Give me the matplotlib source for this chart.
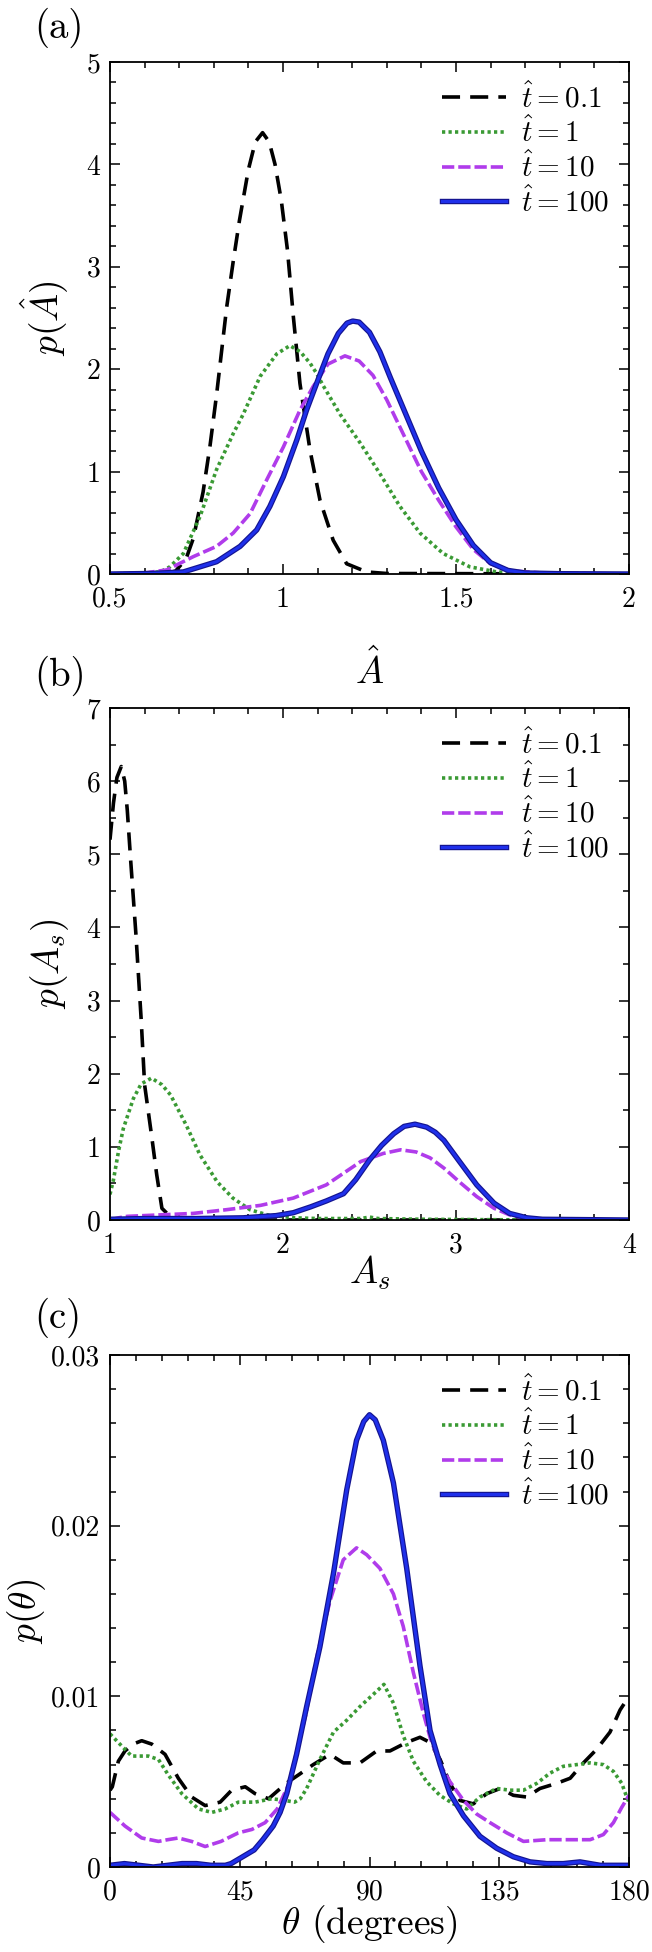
import matplotlib
matplotlib.use("Agg")
import matplotlib.pyplot as plt
import matplotlib.patheffects as pe
from matplotlib.ticker import MultipleLocator

plt.rcParams['mathtext.fontset'] = 'cm'
plt.rcParams['font.family'] = 'serif'
plt.rcParams['font.serif'] = ['cmr10', 'DejaVu Serif']
plt.rcParams['axes.formatter.use_mathtext'] = True

legend_labels = [r'$\hat{t} = 0.1$', r'$\hat{t} = 1$', r'$\hat{t} = 10$', r'$\hat{t} = 100$']

# ---------------- panel (a): p(A_hat) ----------------
a_x_k = [0.5, 0.66, 0.69, 0.72, 0.741, 0.769, 0.789, 0.808, 0.823, 0.837, 0.856, 0.874, 0.90, 0.92,
         0.941, 0.96, 0.977, 0.995, 1.013, 1.030, 1.049, 1.078, 1.107, 1.145, 1.184, 1.242, 1.3, 2.0]
a_y_k = [0, 0, 0.03, 0.15, 0.35, 0.8, 1.25, 1.75, 2.19, 2.6, 3.05, 3.45, 3.95, 4.22,
         4.31, 4.22, 4.0, 3.65, 3.16, 2.51, 1.86, 1.21, 0.72, 0.33, 0.10, 0.02, 0.005, 0]

a_x_g = [0.5, 0.6, 0.645, 0.673, 0.712, 0.76, 0.808, 0.856, 0.885, 0.934, 0.982, 1.02, 1.05, 1.078,
         1.097, 1.116, 1.165, 1.223, 1.28, 1.338, 1.396, 1.463, 1.54, 1.618, 1.7, 2.0]
a_y_g = [0, 0.01, 0.02, 0.07, 0.20, 0.56, 1.02, 1.37, 1.56, 1.93, 2.15, 2.23, 2.17, 2.06,
         1.96, 1.84, 1.56, 1.28, 0.98, 0.66, 0.40, 0.20, 0.07, 0.02, 0.005, 0]

a_x_m = [0.5, 0.6, 0.664, 0.741, 0.808, 0.856, 0.905, 0.953, 1.001, 1.049, 1.087, 1.13, 1.179, 1.22,
         1.26, 1.3, 1.35, 1.4, 1.45, 1.5, 1.55, 1.6, 1.66, 1.75, 2.0]
a_y_m = [0, 0.01, 0.04, 0.17, 0.27, 0.40, 0.59, 0.92, 1.24, 1.60, 1.83, 2.05, 2.13, 2.08,
         1.94, 1.70, 1.35, 1.0, 0.72, 0.46, 0.24, 0.10, 0.03, 0.01, 0]

a_x_b = [0.5, 0.62, 0.712, 0.808, 0.876, 0.924, 0.962, 1.001, 1.04, 1.068, 1.097, 1.13, 1.16, 1.185,
         1.2014, 1.22, 1.25, 1.28, 1.31, 1.35, 1.4, 1.45, 1.5, 1.55, 1.6, 1.65, 1.7, 1.8, 2.0]
a_y_b = [0, 0.005, 0.02, 0.12, 0.27, 0.43, 0.66, 0.95, 1.31, 1.60, 1.86, 2.15, 2.35, 2.45,
         2.47, 2.46, 2.36, 2.17, 1.92, 1.6, 1.2, 0.84, 0.53, 0.28, 0.11, 0.035, 0.01, 0.003, 0]

# ---------------- panel (b): p(A_s) ----------------
b_x_k = [1.0, 1.02, 1.04, 1.065, 1.085, 1.1, 1.12, 1.15, 1.18, 1.2, 1.24, 1.27, 1.30, 1.36, 1.5, 4.0]
b_y_k = [5.2, 5.7, 6.05, 6.2, 6.0, 5.6, 4.9, 3.9, 2.75, 1.85, 1.16, 0.62, 0.16, 0.02, 0, 0]

b_x_g = [1.0, 1.02, 1.05, 1.077, 1.135, 1.18, 1.24, 1.3, 1.35, 1.44, 1.52, 1.62, 1.71, 1.81, 1.91,
         2.06, 2.2, 2.45, 2.5, 2.55, 2.8, 3.5, 4.0]
b_y_g = [0.35, 0.55, 0.95, 1.25, 1.66, 1.86, 1.94, 1.85, 1.71, 1.30, 0.89, 0.52, 0.30, 0.14, 0.07,
         0.03, 0.02, 0.02, 0.04, 0.02, 0.01, 0.0, 0.0]

b_x_m = [1.0, 1.05, 1.1, 1.29, 1.48, 1.67, 1.87, 2.06, 2.25, 2.45, 2.58, 2.68, 2.77, 2.85, 2.93,
         3.02, 3.12, 3.22, 3.31, 3.41, 3.5, 4.0]
b_y_m = [0.0, 0.03, 0.05, 0.07, 0.09, 0.14, 0.20, 0.30, 0.48, 0.80, 0.91, 0.96, 0.93, 0.85, 0.71,
         0.52, 0.32, 0.16, 0.07, 0.02, 0.005, 0]

b_x_b = [1.0, 1.2, 1.5, 1.77, 1.96, 2.06, 2.16, 2.25, 2.35, 2.42, 2.50, 2.57, 2.64, 2.7, 2.763,
         2.83, 2.88, 2.93, 3.02, 3.12, 3.22, 3.31, 3.41, 3.5, 4.0]
b_y_b = [0.01, 0.02, 0.02, 0.03, 0.06, 0.10, 0.18, 0.26, 0.36, 0.55, 0.82, 1.02, 1.18, 1.28, 1.31,
         1.27, 1.20, 1.09, 0.80, 0.48, 0.23, 0.09, 0.03, 0.01, 0]

# ---------------- panel (c): p(theta) ----------------
c_x_k = [0, 0.8, 2.9, 5.2, 8, 11, 14.5, 19.1, 23.7, 28.3, 33, 38.2, 42.2, 46.9, 50.3, 55, 58.4, 61.9,
         65.4, 70.5, 76.3, 80.9, 86.7, 92.5, 97.1, 102.9, 107.5, 111, 114.5, 117.9, 121.4, 126,
         130.7, 135.3, 139.9, 144.5, 149.1, 154.9, 159.6, 164.2, 168.8, 173.4, 176.9, 180]
c_y_k = [0.0045, 0.0047, 0.0062, 0.0068, 0.0072, 0.0074, 0.0072, 0.0066, 0.0052, 0.0041, 0.0036,
         0.0038, 0.0045, 0.0047, 0.0043, 0.0040, 0.0045, 0.0050, 0.0054, 0.0060, 0.0066, 0.0061,
         0.0061, 0.0068, 0.0068, 0.0073, 0.0076, 0.0073, 0.0063, 0.0049, 0.0039, 0.0037, 0.0043,
         0.0046, 0.0042, 0.0041, 0.0046, 0.0049, 0.0052, 0.0061, 0.0069, 0.0079, 0.0092, 0.0100]

c_x_g = [0, 4, 7.5, 13.3, 16.8, 20.2, 24.9, 30.7, 35.3, 39.9, 44.5, 50.3, 56.1, 60.7, 64, 66, 68.2,
         72.8, 77.5, 82.1, 86.7, 92.5, 95, 98.3, 101.7, 105.2, 109.8, 114.4, 119.1, 123.7, 128.3,
         134.1, 138.7, 143.4, 148, 152.6, 157.2, 161.9, 166.5, 171.1, 174.6, 177.5, 179.2, 180]
c_y_g = [0.0078, 0.0071, 0.0065, 0.0065, 0.0063, 0.0054, 0.0043, 0.0034, 0.0032, 0.0034, 0.0038,
         0.0038, 0.0040, 0.0039, 0.0038, 0.0040, 0.0046, 0.0063, 0.0079, 0.0086, 0.0094, 0.0103,
         0.0107, 0.0096, 0.0077, 0.0062, 0.0050, 0.0042, 0.0037, 0.0034, 0.0041, 0.0046, 0.0045,
         0.0045, 0.0049, 0.0055, 0.0059, 0.0060, 0.0061, 0.0060, 0.0056, 0.0049, 0.0041, 0.0038]

c_x_m = [0, 5.2, 11, 16.8, 20, 23.7, 28.3, 33, 38.5, 44.5, 49.2, 53.8, 58, 61.9, 65.4, 68, 71.7,
         76.3, 80.9, 85.5, 89, 93.6, 98.3, 101.7, 105.2, 108.7, 111, 114.5, 117.9, 122.6, 127.2,
         131.8, 137.6, 143.4, 151.5, 159.6, 166.5, 171.1, 174.6, 177.5, 180]
c_y_m = [0.0032, 0.0024, 0.0017, 0.0015, 0.0016, 0.0017, 0.0015, 0.0012, 0.0015, 0.0020, 0.0022,
         0.0026, 0.0034, 0.0048, 0.0072, 0.0090, 0.0123, 0.0156, 0.0180, 0.0187, 0.0183, 0.0175,
         0.0160, 0.0141, 0.0114, 0.0090, 0.0076, 0.0060, 0.0050, 0.0039, 0.0031, 0.0026, 0.0020,
         0.0015, 0.0016, 0.0016, 0.0016, 0.0019, 0.0026, 0.0035, 0.0042]

c_x_b = [0, 5, 10, 15, 20, 25, 30, 35, 40, 42, 45, 50, 53, 56.6, 59, 61.3, 64.7, 68.2, 72.8, 77.5,
         82.1, 85.5, 88, 90, 92, 94.8, 98.3, 102.9, 107.5, 111, 114.5, 117.9, 122.6, 128.3, 134.1,
         139.9, 145.7, 151.5, 157.2, 163, 170, 180]
c_y_b = [0.0001, 0.0002, 0.0001, 0.0, 0.0001, 0.0002, 0.0002, 0.0001, 0.0001, 0.0002, 0.0005,
         0.0010, 0.0016, 0.0024, 0.0032, 0.0043, 0.0066, 0.0094, 0.0129, 0.0172, 0.0221, 0.0250,
         0.0261, 0.0265, 0.0262, 0.0250, 0.0225, 0.0175, 0.0118, 0.0080, 0.0060, 0.0043, 0.0030,
         0.0018, 0.0011, 0.0006, 0.0003, 0.0002, 0.0002, 0.0003, 0.0001, 0.0001]

# tick labels for each panel
a_xticks, a_xlabels = [0.5, 1, 1.5, 2], ['0.5', '1', '1.5', '2']
a_yticks, a_ylabels = [0, 1, 2, 3, 4, 5], ['0', '1', '2', '3', '4', '5']
b_xticks, b_xlabels = [1, 2, 3, 4], ['1', '2', '3', '4']
b_yticks, b_ylabels = [0, 1, 2, 3, 4, 5, 6, 7], ['0', '1', '2', '3', '4', '5', '6', '7']
c_xticks, c_xlabels = [0, 45, 90, 135, 180], ['0', '45', '90', '135', '180']
c_yticks, c_ylabels = [0, 0.01, 0.02, 0.03], ['0', '0.01', '0.02', '0.03']

# line styles: black dashed, green dotted, magenta dashed, blue solid
LW = 2.6
styles = [
    dict(color='black', lw=LW, dashes=(5.0, 2.8)),
    dict(color='#3a9a34', lw=LW, dashes=(0.9, 0.9)),
    dict(color='#b03ceb', lw=LW, dashes=(3.4, 1.1)),
    dict(color='#1f30ea', lw=2.2,
         path_effects=[pe.Stroke(linewidth=3.9, foreground='#141490'), pe.Normal()]),
]

fig = plt.figure(figsize=(6.52, 19.52), dpi=100)
W, H = 652.0, 1952.0
left, width, height = 110 / W, 519 / W, 512 / H


def draw_panel(ax, series, xlim, ylim, xticks, xlabels, yticks, ylabels, xminor, yminor,
               xlabel, ylabel, tag, tag_y, ylab_x, xlab_y):
    for (x, y), st, lab in zip(series, styles, legend_labels):
        ax.plot(x, y, label=lab, **st)
    ax.set_xlim(*xlim)
    ax.set_ylim(*ylim)
    ax.set_xticks(xticks, xlabels)
    ax.set_yticks(yticks, ylabels)
    ax.xaxis.set_minor_locator(MultipleLocator(xminor))
    ax.yaxis.set_minor_locator(MultipleLocator(yminor))
    ax.tick_params(which='both', direction='in', top=True, right=True, labelsize=20, width=1.1)
    ax.tick_params(which='major', length=7)
    ax.tick_params(axis='x', which='major', pad=9)
    ax.tick_params(axis='y', which='major', pad=7)
    ax.tick_params(which='minor', length=4)
    for sp in ax.spines.values():
        sp.set_linewidth(1.3)
    ax.set_xlabel(xlabel, fontsize=27)
    ax.set_ylabel(ylabel, fontsize=27)
    # y label anchor is its right edge, x label anchor is its top edge
    ax.yaxis.set_label_coords(ylab_x, 0.5)
    ax.xaxis.set_label_coords(0.5, xlab_y)
    ax.legend(loc='upper right', frameon=False, fontsize=21, handlelength=2.2,
              handletextpad=0.5, labelspacing=0.12, borderaxespad=0.3)
    # panel tag placed in figure pixels (from the top-left corner)
    fig.text(34 / W, 1 - tag_y / H, tag, fontsize=28, va='center', ha='left')


ax_a = fig.add_axes([left, (H - 574) / H, width, height])
draw_panel(ax_a, [(a_x_k, a_y_k), (a_x_g, a_y_g), (a_x_m, a_y_m), (a_x_b, a_y_b)],
           (0.5, 2), (0, 5), a_xticks, a_xlabels, a_yticks, a_ylabels, 0.1, 0.2,
           r'$\hat{A}$', r'$p(\hat{A})$', '(a)', 28, -0.075, -0.145)

ax_b = fig.add_axes([left, (H - 1220) / H, width, height])
draw_panel(ax_b, [(b_x_k, b_y_k), (b_x_g, b_y_g), (b_x_m, b_y_m), (b_x_b, b_y_b)],
           (1, 4), (0, 7), b_xticks, b_xlabels, b_yticks, b_ylabels, 0.2, 0.5,
           r'$A_s$', r'$p(A_s)$', '(b)', 676, -0.075, -0.065)

ax_c = fig.add_axes([left, (H - 1867) / H, width, height])
draw_panel(ax_c, [(c_x_k, c_y_k), (c_x_g, c_y_g), (c_x_m, c_y_m), (c_x_b, c_y_b)],
           (0, 180), (0, 0.03), c_xticks, c_xlabels, c_yticks, c_ylabels, 9, 0.002,
           r'$\theta$ (degrees)', r'$p(\theta)$', '(c)', 1318, -0.12, -0.07)

fig.savefig("out.png", dpi=100)
